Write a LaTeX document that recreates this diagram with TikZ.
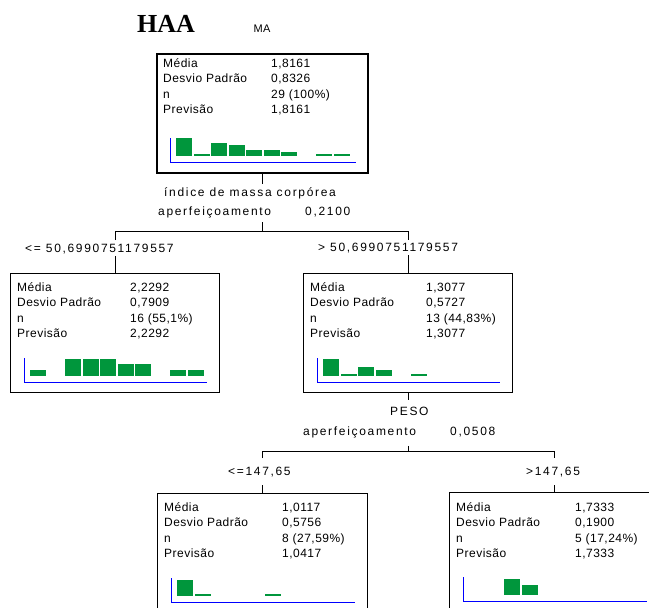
\documentclass[tikz,border=0pt]{standalone}
\usepackage{fontspec}
\setmainfont{Liberation Serif}
\newfontfamily\caixafont[LetterSpace=4]{Liberation Sans}
\newfontfamily\rotulofont[LetterSpace=14]{Liberation Sans}
\usetikzlibrary{
    calc
}
\definecolor{verde}{RGB}{0,150,60}
\definecolor{azul}{RGB}{0,0,255}
\tikzset{
    caixa/.style={
        draw,
        line width=0.9pt,
        anchor=north west,
        inner sep=0pt,
        minimum width=209,
        minimum height=119
    },
    texto/.style={
        font=\caixafont\fontsize{12}{14}\selectfont,
        inner sep=0pt,
        anchor=base west
    },
    rotulo/.style={
        font=\rotulofont\fontsize{12}{14}\selectfont,
        inner sep=0pt,
        anchor=base west
    },
    barra/.style={fill=verde},
    eixo/.style={draw=azul, line width=0.9pt},
    ramo/.style={line width=0.9pt}
}

% caixa, linha, coluna, media, desvio, n, previsao
\newcommand{\estatisticas}[7]{
    \node[texto] (#1m)  at ($(#1.north west)+(7,#2+4)$)      {Média};
    \node[texto] (#1mv) at ($(#1.north west)+(#3,#2+4)$)     {#4};
    \node[texto] (#1d)  at ($(#1.north west)+(7,#2+19.5)$)   {Desvio Padrão};
    \node[texto] (#1dv) at ($(#1.north west)+(#3,#2+19.5)$)  {#5};
    \node[texto] (#1n)  at ($(#1.north west)+(7,#2+35)$)     {n};
    \node[texto] (#1nv) at ($(#1.north west)+(#3,#2+35)$)    {#6};
    \node[texto] (#1p)  at ($(#1.north west)+(7,#2+50.5)$)   {Previsão};
    \node[texto] (#1pv) at ($(#1.north west)+(#3,#2+50.5)$)  {#7};
}

% caixa, lista classe/altura
\newcommand{\histograma}[2]{
    \draw[eixo] ($(#1.north west)+(14,85)$) |- ($(#1.north east)+(-13,109)$);
    \foreach \ci/\hi in {#2}
        \fill[barra] ($(#1.north west)+({20+17.5*(\ci-1)},103)$) rectangle ++(16,-\hi);
}

\begin{document}
\begin{tikzpicture}[
    x=1pt,
    y=-1pt
]
    \useasboundingbox (0,0) rectangle (649,608);
    \clip (0,0) rectangle (649,608);

    % Titulo
    \node[font=\fontsize{26}{26}\selectfont\bfseries, inner sep=0pt] (titulo) at (166,24) {HAA};
    \node[font=\caixafont\fontsize{11}{12}\selectfont, inner sep=0pt] (sub) at (262,29) {MA};

    % Caixas
    \node[caixa, line width=2.4pt, minimum width=211] (raiz) at (156,53)  {};
    \node[caixa]                                      (esq)  at (10,273)  {};
    \node[caixa]                                      (dir)  at (303,273) {};
    \node[caixa, minimum width=210]                   (esqB) at (157,493) {};
    \node[caixa, minimum width=210]                   (dirB) at (449,492) {};

    % Estatisticas
    \estatisticas{raiz}{10}{115}{1,8161}{0,8326}{29 (100\%)}{1,8161}
    \estatisticas{esq}{14}{120}{2,2292}{0,7909}{16 (55,1\%)}{2,2292}
    \estatisticas{dir}{14}{123}{1,3077}{0,5727}{13 (44,83\%)}{1,3077}
    \estatisticas{esqB}{14}{125}{1,0117}{0,5756}{8 (27,59\%)}{1,0417}
    \estatisticas{dirB}{15}{126}{1,7333}{0,1900}{5 (17,24\%)}{1,7333}

    % Histogramas
    \histograma{raiz}{1/18, 2/2, 3/13, 4/11, 5/6, 6/6, 7/4, 9/2, 10/2}
    \histograma{esq}{1/6, 3/17, 4/17, 5/17, 6/12, 7/12, 9/6, 10/6}
    \histograma{dir}{1/17, 2/2, 3/9, 4/6, 6/2}
    \histograma{esqB}{1/16, 2/2, 6/2}
    \histograma{dirB}{3/16, 4/10}

    % Primeira divisao
    \node[rotulo] (varA)  at (164,196) {índice de massa corpórea};
    \node[rotulo] (apA)   at (158,215) {aperfeiçoamento};
    \node[rotulo] (apAv)  at (305,215) {0,2100};
    \node[rotulo] (condAe) at (25,252)  {<= 50,6990751179557};
    \node[rotulo] (condAd) at (318,251) {> 50,6990751179557};

    \coordinate (sA)  at ($(raiz.south)+(0,10)$);
    \coordinate (tA)  at ($(raiz.south)+(0,48)$);
    \coordinate (jA)  at ($(raiz.south)+(0,57)$);
    \coordinate (dAe) at ($(esq.north)+(0,-33)$);
    \coordinate (uAe) at ($(esq.north)+(0,-17)$);
    \coordinate (dAd) at ($(dir.north)+(0,-33)$);
    \coordinate (uAd) at ($(dir.north)+(0,-18)$);

    \draw[ramo] (raiz.south) -- (sA);
    \draw[ramo] (tA) -- (jA);
    \draw[ramo] (dAe) |- (jA) -| (dAd);
    \draw[ramo] (uAe) -- (esq.north);
    \draw[ramo] (uAd) -- (dir.north);

    % Segunda divisao
    \node[rotulo] (varB)  at (390,415) {PESO};
    \node[rotulo] (apB)   at (303,435) {aperfeiçoamento};
    \node[rotulo] (apBv)  at (450,435) {0,0508};
    \node[rotulo] (condBe) at (228,475) {<=147,65};
    \node[rotulo] (condBd) at (526,475) {>147,65};

    \coordinate (sB)  at ($(dir.south)+(0,7)$);
    \coordinate (tB)  at ($(dir.south)+(0,53)$);
    \coordinate (jB)  at ($(dir.south)+(0,59)$);
    \coordinate (dBe) at ($(esqB.north)+(0,-35)$);
    \coordinate (uBe) at ($(esqB.north)+(0,-8)$);
    \coordinate (dBd) at ($(dirB.north)+(0,-34)$);
    \coordinate (uBd) at ($(dirB.north)+(0,-7)$);

    \draw[ramo] (dir.south) -- (sB);
    \draw[ramo] (tB) -- (jB);
    \draw[ramo] (dBe) |- (jB) -| (dBd);
    \draw[ramo] (uBe) -- (esqB.north);
    \draw[ramo] (uBd) -- (dirB.north);

\end{tikzpicture}
\end{document}
